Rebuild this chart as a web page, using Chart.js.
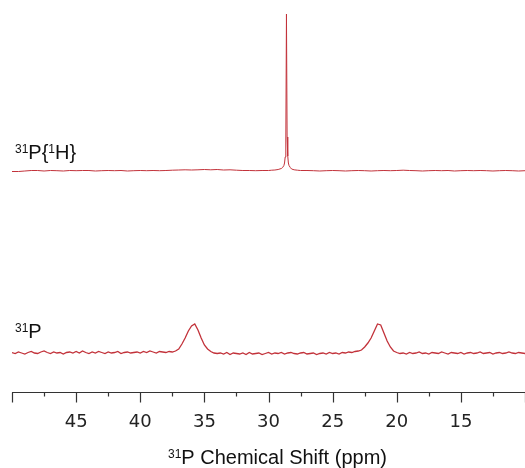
<!DOCTYPE html>
<html>
<head>
<meta charset="utf-8">
<script src="https://cdn.jsdelivr.net/npm/chart.js@4"></script>
<style>
  body { margin: 0; background: #fff; }
  #wrap { width: 525px; height: 468px; }
</style>
</head>
<body>
<div id="wrap"><canvas id="nmr"></canvas></div>
<script>
// 31P (coupled) trace, ppm grid and intensity (above baseline)
const ppmP = [
  50,49.75,49.5,49.25,49,48.75,48.5,48.25,48,47.75,
  47.5,47.25,47,46.75,46.5,46.25,46,45.75,45.5,45.25,
  45,44.75,44.5,44.25,44,43.75,43.5,43.25,43,42.75,
  42.5,42.25,42,41.75,41.5,41.25,41,40.75,40.5,40.25,
  40,39.75,39.5,39.25,39,38.75,38.5,38.25,38,37.75,
  37.5,37.25,37,36.75,36.5,36.25,36,35.75,35.5,35.25,
  35,34.75,34.5,34.25,34,33.75,33.5,33.25,33,32.75,
  32.5,32.25,32,31.75,31.5,31.25,31,30.75,30.5,30.25,
  30,29.75,29.5,29.25,29,28.75,28.5,28.25,28,27.75,
  27.5,27.25,27,26.75,26.5,26.25,26,25.75,25.5,25.25,
  25,24.75,24.5,24.25,24,23.75,23.5,23.25,23,22.75,
  22.5,22.25,22,21.75,21.5,21.25,21,20.75,20.5,20.25,
  20,19.75,19.5,19.25,19,18.75,18.5,18.25,18,17.75,
  17.5,17.25,17,16.75,16.5,16.25,16,15.75,15.5,15.25,
  15,14.75,14.5,14.25,14,13.75,13.5,13.25,13,12.75,
  12.5,12.25,12,11.75,11.5,11.25,11,10.75,10.5,10.25,
  10
];
const intensityP = [
  0.5,-0.5,1,0,-1,0.5,1.5,0,-0.5,1,
  2,0.5,-0.5,1,0,0.5,-1,0.5,1,0,
  1.5,0,2,0.5,-0.5,1,0,1.5,0.5,-0.5,
  1,0,0.5,1.5,-0.5,0.5,1,0,0.5,1,
  0,1.5,0.5,2,1,0,1.5,1,0.5,1.5,
  1,2,4,9,15,22,27,29,23,15,
  8,4,1.5,0,-0.5,0,-1,0.5,-1.5,0,
  -0.5,-1,0,-1.5,0.5,-1,-0.5,0,-1.5,-0.5,
  0.5,-1,0,-0.5,0.5,-1,0,0.5,-0.5,-1,
  0,0.5,-1,-0.5,0,-1.5,-0.5,0,-1,0.5,
  -0.5,0,-1,0.5,0,1,0.5,1.5,2,3,
  6,10,15,22,29,28,20,12,6,2,
  0.5,-0.5,0,-1,0.5,-0.5,0,1,-0.5,0,
  -1,0.5,0,-0.5,1,0,-1,0.5,0,-0.5,
  0.5,-1,0,0.5,-0.5,0,1,-0.5,0,0.5,
  -1,0,0.5,-0.5,0,1,0,-0.5,0.5,0,
  -0.5
];

// 31P{1H} (decoupled) trace
const ppmPH = [
  50,49.5,49,48.5,48,47.5,47,46.5,46,45.5,
  45,44.5,44,43.5,43,42.5,42,41.5,41,40.5,
  40,39.5,39,38.5,38,37.5,37,36.5,36,35.5,
  35,34.5,34,33.5,33,32.5,32,31.5,31,30.5,
  30,
  29.75,29.5,29.25,29,28.9,28.8,28.75,28.7,28.65,28.6,
  28.55,28.5,28.45,28.4,28.3,28.2,28,27.75,27.5,
  27,26.5,26,25.5,25,24.5,24,23.5,23,22.5,
  22,21.5,21,20.5,20,19.5,19,18.5,18,17.5,
  17,16.5,16,15.5,15,14.5,14,13.5,13,12.5,
  12,11.5,11,10.5,10
];
const intensityPH = [
  -0.5,-0.5,0,0.5,0.5,0,0.5,0.3,0,0.5,
  0.3,0.5,0.5,0,0.3,0.5,0.3,0.5,0,0.3,
  0.5,0.3,0.5,0.3,0.5,0.8,1,1.2,1,1.2,
  1.5,1.2,1.5,1,1.2,0.8,0.5,0.5,0.3,0.5,
  0.5,
  0.8,1,1.5,2.5,3.5,5.5,8,14,30,157,
  34,15,8,5.5,3.5,2,1.2,0.8,0.5,
  0.5,0.3,0,0.3,0.5,0.3,0,0.3,0.5,0.3,
  0,0.3,0.5,0.3,0.5,0.8,0.5,0.3,0,0.3,
  0.5,0.3,0.5,0,0.3,0.5,0.3,0.5,0.3,0,
  0.3,0.5,0.3,0,0.3
];
const offsetPH = 182; // vertical stacking offset of the decoupled trace

const tickValues = [50, 47.5, 45, 42.5, 40, 37.5, 35, 32.5, 30, 27.5, 25, 22.5, 20, 17.5, 15, 12.5, 10];
const tickLabels = [45, 40, 35, 30, 25, 20, 15];

const traceColor = "#c2323a";
const textFont = "'Liberation Sans', Arial, sans-serif";

function drawRich(ctx, parts, x, y, size) {
  ctx.textBaseline = "alphabetic";
  ctx.textAlign = "left";
  parts.forEach(p => {
    if (p.sup) {
      ctx.font = Math.round(size * 0.6) + "px " + textFont;
      ctx.fillText(p.t, x, y - size * 0.3);
    } else {
      ctx.font = size + "px " + textFont;
      ctx.fillText(p.t, x, y);
    }
    x += ctx.measureText(p.t).width;
  });
}

const spectrumDecor = {
  id: "spectrumDecor",
  afterDraw(chart) {
    const ctx = chart.ctx;
    const xs = chart.scales.x;
    const ys = chart.scales.y;
    const area = chart.chartArea;
    ctx.save();
    // axis line + ticks
    ctx.strokeStyle = "#333";
    ctx.lineWidth = 1.2;
    const ay = Math.round(xs.top) + 0.5;
    ctx.beginPath();
    ctx.moveTo(area.left, ay);
    ctx.lineTo(area.right, ay);
    tickValues.forEach(v => {
      const px = Math.round(xs.getPixelForValue(v)) + 0.5;
      const len = v % 5 === 0 ? 10 : 4;
      ctx.moveTo(px, ay);
      ctx.lineTo(px, ay + len);
    });
    ctx.stroke();

    // trace labels and axis title
    ctx.fillStyle = "#111";
    const baseP = ys.getPixelForValue(0);
    const basePH = ys.getPixelForValue(offsetPH);
    drawRich(ctx, [{t: "31", sup: true}, {t: "P{"}, {t: "1", sup: true}, {t: "H}"}], 15, basePH - 12, 20);
    drawRich(ctx, [{t: "31", sup: true}, {t: "P"}], 15, baseP - 15, 20);
    drawRich(ctx, [{t: "31", sup: true}, {t: "P Chemical Shift (ppm)"}], 168, 464, 20);
    ctx.restore();
  }
};

new Chart(document.getElementById("nmr"), {
  type: "line",
  data: {
    datasets: [
      {
        label: "31P",
        data: ppmP.map((p, i) => ({x: p, y: intensityP[i]})),
        borderColor: traceColor,
        borderWidth: 1.3,
        pointRadius: 0,
        tension: 0,
      },
      {
        label: "31P{1H}",
        data: ppmPH.map((p, i) => ({x: p, y: intensityPH[i] + offsetPH})),
        borderColor: traceColor,
        borderWidth: 1,
        pointRadius: 0,
        tension: 0,
      },
    ],
  },
  options: {
    responsive: true,
    maintainAspectRatio: false,
    animation: false,
    layout: { padding: { left: 12, right: 0, top: 0, bottom: 0 } },
    plugins: { legend: { display: false }, tooltip: { enabled: false } },
    scales: {
      x: {
        type: "linear",
        reverse: true,
        min: 10,
        max: 50,
        afterBuildTicks: s => { s.ticks = tickValues.map(v => ({value: v})); },
        afterFit: s => { s.height = 76; s.paddingLeft = 0; s.paddingRight = 0; },
        ticks: {
          autoSkip: false,
          maxRotation: 0,
          padding: 10,
          color: "#222",
          font: { family: "'DejaVu Sans'", size: 18 },
          callback: v => tickLabels.includes(v) ? String(v) : "",
        },
        grid: { drawOnChartArea: false, drawTicks: true, tickLength: 10, color: "rgba(0,0,0,0)" },
        border: { display: false },
      },
      y: { display: false, min: -39, max: 353 },
    },
  },
  plugins: [spectrumDecor],
});
</script>
</body>
</html>
